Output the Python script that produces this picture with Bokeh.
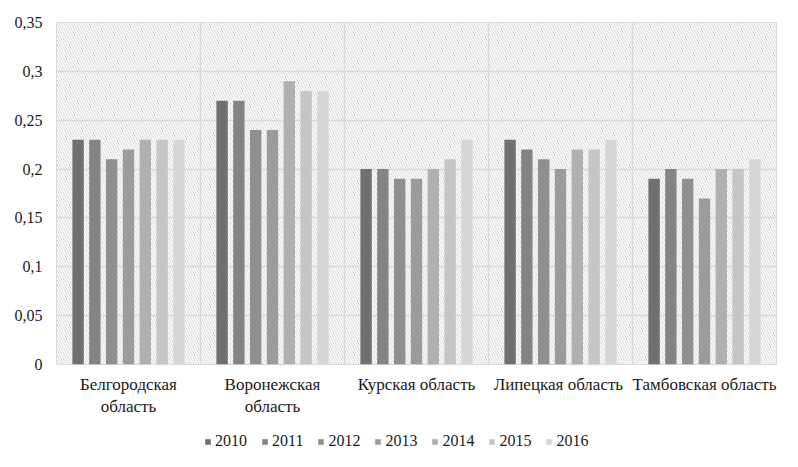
from bokeh.plotting import figure
from bokeh.models import (ColumnDataSource, FactorRange, Legend, LegendItem, FixedTicker,
                          BoxAnnotation, Span)
from bokeh.layouts import column
from bokeh.transform import dodge
from bokeh.embed import file_html
from bokeh.resources import INLINE

regions = ["Белгородская\nобласть", "Воронежская\nобласть", "Курская область",
           "Липецкая  область", "Тамбовская область"]
years = ["2010", "2011", "2012", "2013", "2014", "2015", "2016"]
v2010 = [0.23, 0.27, 0.20, 0.23, 0.19]
v2011 = [0.23, 0.27, 0.20, 0.22, 0.20]
v2012 = [0.21, 0.24, 0.19, 0.21, 0.19]
v2013 = [0.22, 0.24, 0.19, 0.20, 0.17]
v2014 = [0.23, 0.29, 0.20, 0.22, 0.20]
v2015 = [0.23, 0.28, 0.21, 0.22, 0.20]
v2016 = [0.23, 0.28, 0.23, 0.23, 0.21]
series = [v2010, v2011, v2012, v2013, v2014, v2015, v2016]
colors = ["#707070", "#848484", "#8f8f8f", "#9b9b9b", "#b0b0b0", "#c6c6c6", "#d6d6d6"]
y_ticks = [0, 0.05, 0.1, 0.15, 0.2, 0.25, 0.3, 0.35]
y_tick_labels = ["0", "0,05", "0,1", "0,15", "0,2", "0,25", "0,3", "0,35"]

data = {"region": regions}
for y, s in zip(years, series):
    data["y" + y] = s
src = ColumnDataSource(data)

FONT = "Times New Roman, Liberation Serif, DejaVu Serif, serif"
FS = "16px"
TXT = "#1a1a1a"
GRID = "#d9d9d9"

p = figure(x_range=FactorRange(*regions, range_padding=0), y_range=(0, 0.35),
           width=782, height=419, output_backend="svg", toolbar_location=None,
           min_border_left=56, min_border_right=6, min_border_top=22, min_border_bottom=54)
p.background_fill_color = "white"
p.border_fill_color = "white"
p.outline_line_color = GRID
p.outline_line_width = 1

p.add_layout(BoxAnnotation(fill_alpha=0, line_alpha=0, hatch_pattern="\\", hatch_color="#d6d6d6",
                           hatch_scale=5, hatch_weight=1, level="underlay"))

for b in [1, 2, 3, 4]:
    p.add_layout(Span(location=b, dimension="height", line_color=GRID, line_width=1.5))

slot = 0.1167
bw = 0.079
for j, y in enumerate(years):
    p.vbar(x=dodge("region", (j - 3) * slot, range=p.x_range), top="y" + y,
           width=bw, source=src, fill_color=colors[j], line_color=None)

p.xgrid.grid_line_color = None
p.ygrid.grid_line_color = GRID
p.ygrid.grid_line_width = 1.5
p.yaxis.ticker = FixedTicker(ticks=y_ticks)
p.yaxis.major_label_overrides = {t: l for t, l in zip(y_ticks, y_tick_labels)}

for ax in (p.xaxis, p.yaxis):
    ax.axis_line_color = None
    ax.major_tick_line_color = None
    ax.minor_tick_line_color = None
    ax.major_tick_out = 0
    ax.major_tick_in = 0
    ax.minor_tick_out = 0
    ax.major_label_text_font = FONT
    ax.major_label_text_font_size = FS
    ax.major_label_text_color = TXT
p.xaxis.major_label_text_font_size = "17px"
p.yaxis.major_label_standoff = 14
p.xaxis.major_label_standoff = 10

# legend strip below the chart
lg = figure(x_range=FactorRange(*regions), y_range=(10, 11), width=782, height=32,
            output_backend="svg", toolbar_location=None, x_axis_location=None,
            y_axis_location=None, min_border=0, min_border_left=0, min_border_right=0,
            min_border_top=0, min_border_bottom=0, outline_line_color=None)
lg.grid.grid_line_color = None
items = []
for j, y in enumerate(years):
    r = lg.vbar(x="region", top="y" + y, width=bw, source=src,
                fill_color=colors[j], line_color=None)
    items.append(LegendItem(label=y, renderers=[r]))
legend = Legend(items=items, orientation="horizontal", location=(148, 1),
                label_text_font=FONT, label_text_font_size=FS, label_text_color=TXT,
                glyph_width=7, glyph_height=7, label_standoff=4, spacing=14,
                border_line_color=None, background_fill_alpha=0, padding=3, margin=0)
lg.add_layout(legend, "center")

layout = column(p, lg, spacing=0)
open("out.html", "w").write(file_html(layout, INLINE))
